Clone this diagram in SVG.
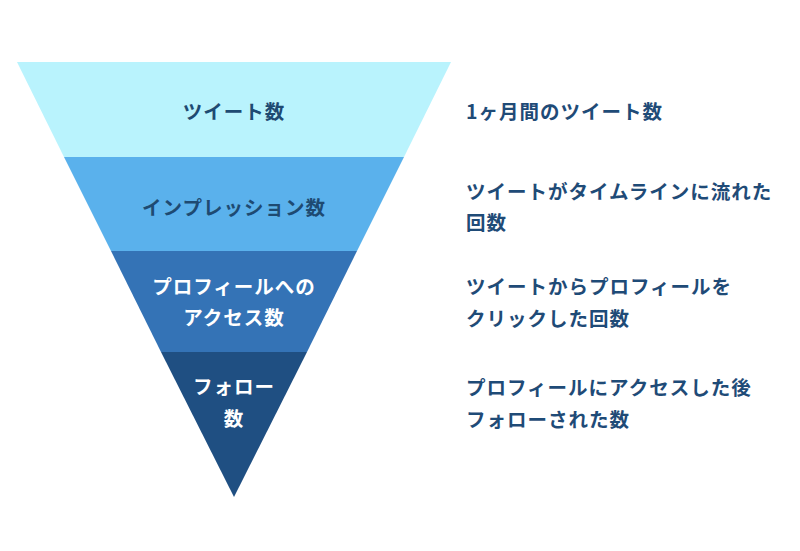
<svg xmlns="http://www.w3.org/2000/svg" width="800" height="551" viewBox="0 0 800 551">
<style>
text{font-family:"Noto Sans CJK JP","Noto Sans",sans-serif;font-weight:bold;font-size:19.5px;letter-spacing:1px}
.c{text-anchor:middle}
.d{fill:#1e4a72}
.w{fill:#ffffff}
.r{fill:#1f4b77}
</style>
<rect width="800" height="551" fill="#ffffff"/>
<g id="band1"><polygon points="17,62 451,62 404,157 64,157" fill="#b9f3fd"/><text class="c d" x="234" y="119">ツイート数</text></g>
<g id="band2"><polygon points="64,157 404,157 357,251 111,251" fill="#5ab1ec"/><text class="c d" x="234" y="215">インプレッション数</text></g>
<g id="band3"><polygon points="111,251 357,251 307,352 161,352" fill="#3473b6"/><text class="c w" x="234" y="294">プロフィールへの</text><text class="c w" x="234" y="325">アクセス数</text></g>
<g id="band4"><polygon points="161,352 307,352 234,497" fill="#1f4f82"/><text class="c w" x="234" y="394">フォロー</text><text class="c w" x="234" y="426">数</text></g>
<g id="labels">
<text class="r" x="466" y="119">1ヶ月間のツイート数</text>
<text class="r" x="466" y="199">ツイートがタイムラインに流れた</text>
<text class="r" x="466" y="230">回数</text>
<text class="r" x="466" y="294">ツイートからプロフィールを</text>
<text class="r" x="466" y="326">クリックした回数</text>
<text class="r" x="466" y="395">プロフィールにアクセスした後</text>
<text class="r" x="466" y="427">フォローされた数</text>
</g>
</svg>
